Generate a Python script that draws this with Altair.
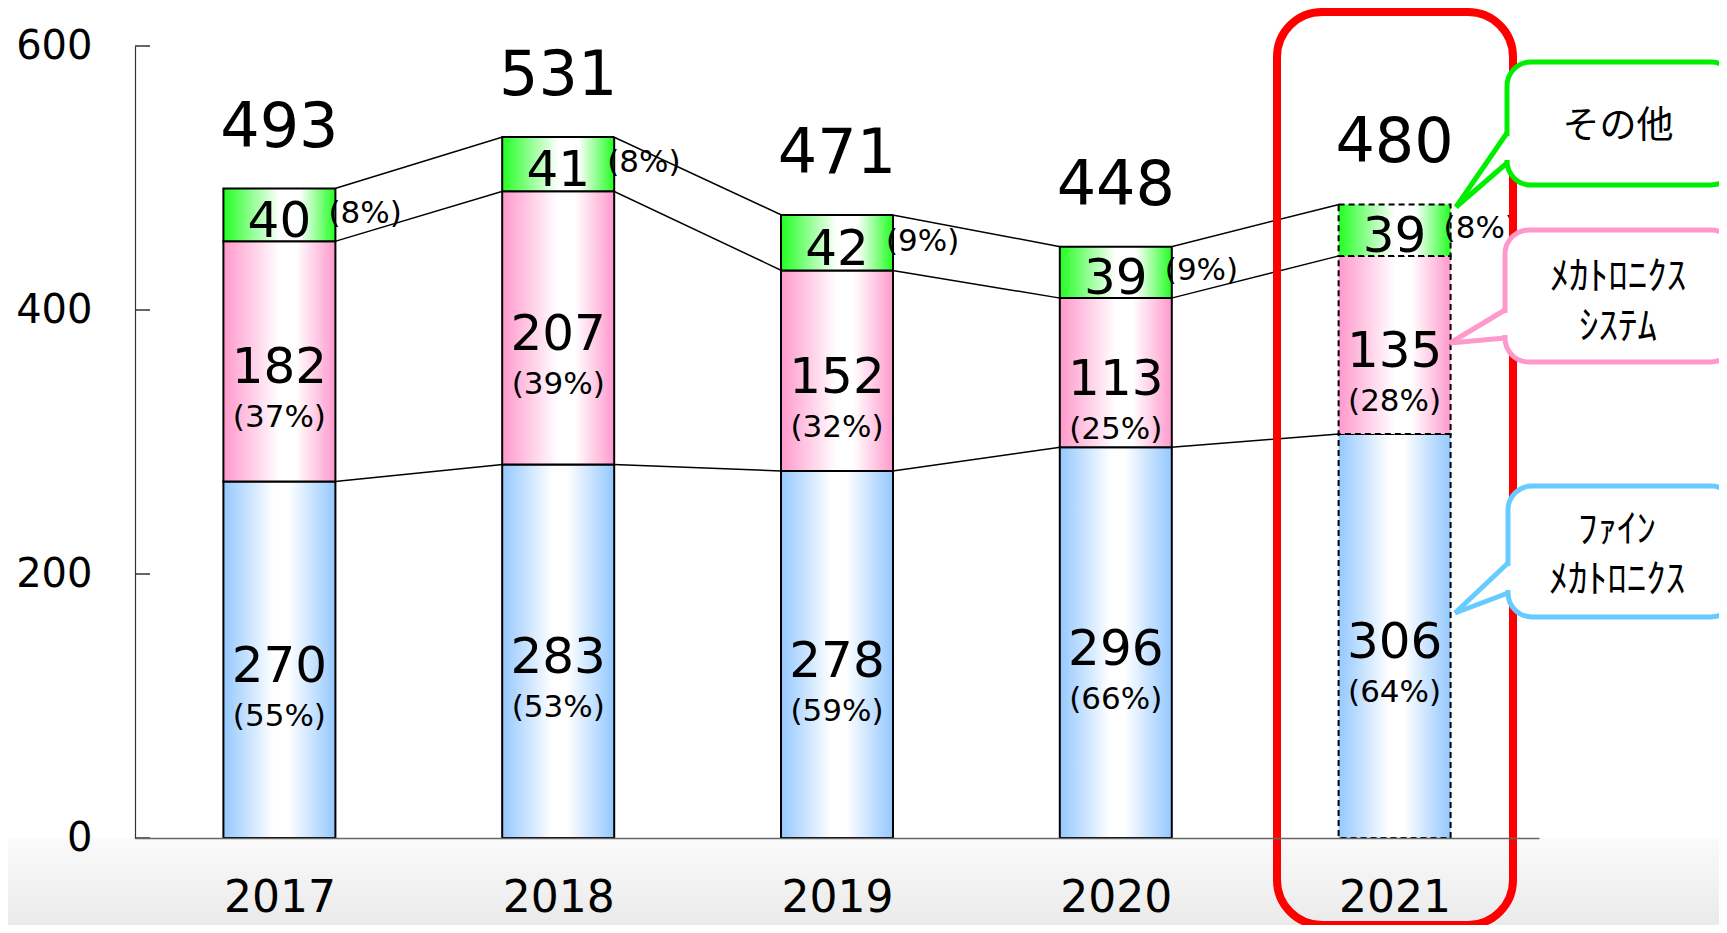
import altair as alt
import pandas as pd

# ---------------- data ----------------
years = [2017, 2018, 2019, 2020, 2021]
fine_mech = [270, 283, 278, 296, 306]      # ファインメカトロニクス
mech_sys = [182, 207, 152, 113, 135]       # メカトロニクスシステム
other = [40, 41, 42, 39, 39]               # その他
totals = [493, 531, 471, 448, 480]
fine_pct = [55, 53, 59, 66, 64]
mech_pct = [37, 39, 32, 25, 28]
other_pct = [8, 8, 9, 9, 8]
y_ticks = [0, 200, 400, 600]
callout_other = "その他"
callout_mech = ["ﾒｶﾄﾛﾆｸｽ", "ｼｽﾃﾑ"]
callout_fine = ["ﾌｧｲﾝ", "ﾒｶﾄﾛﾆｸｽ"]

# ---------------- layout ----------------
W, H = 1404, 792
BAR_PX = 112
STEP = W / len(years)
HW = BAR_PX / 2 / STEP
FONT = "DejaVu Sans"
JFONT = "Noto Sans CJK JP"

rows = []
series_vals = [(fine_mech, fine_pct), (mech_sys, mech_pct), (other, other_pct)]
for i, yr in enumerate(years):
    base = 0
    for s, (vals, pcts) in enumerate(series_vals):
        v = vals[i]
        rows.append(dict(year=yr, series=s, low=base, high=base + v,
                         mid=base + v / 2, value=v, pct=f"({pcts[i]}%)",
                         total=totals[i]))
        base += v
df = pd.DataFrame(rows)

# connecting lines between segment tops
lrows = []
for s in range(3):
    sub = df[df.series == s].reset_index(drop=True)
    for i, r in sub.iterrows():
        if i > 0:
            lrows.append(dict(series=s, xe=r.year - HW, top=r.high, o=2 * i))
        if i < len(sub) - 1:
            lrows.append(dict(series=s, xe=r.year + HW, top=r.high, o=2 * i + 1))
ldf = pd.DataFrame(lrows)

xscale = alt.Scale(domain=[2016.5, 2021.5], nice=False, zero=False)
yscale = alt.Scale(domain=[0, 600], nice=False, zero=True)
xaxis = alt.Axis(values=years, format="d", title=None, ticks=False, tickSize=0,
                 labelFontSize=44, labelFont=FONT, labelColor="black",
                 labelPadding=38, domainColor="#666666", domainWidth=1.5,
                 grid=False, labelFlush=False, zindex=1)
yaxis = alt.Axis(values=y_ticks, title=None, ticks=False, tickSize=0,
                 labelFontSize=40, labelFont=FONT, labelColor="black",
                 labelPadding=43, domainColor="#333333", domainWidth=1.2,
                 grid=False, labelFlush=False, zindex=1)


def X(f):
    return alt.X(f"{f}:Q", scale=xscale, axis=xaxis, title=None)


def Y(f):
    return alt.Y(f"{f}:Q", scale=yscale, axis=yaxis, title=None)


def grad(edge, w0, w1):
    return alt.Gradient(
        gradient="linear", x1=0, y1=0, x2=1, y2=0,
        stops=[alt.GradientStop(offset=0, color=edge),
               alt.GradientStop(offset=w0, color="#ffffff"),
               alt.GradientStop(offset=w1, color="#ffffff"),
               alt.GradientStop(offset=1, color=edge)])


one = pd.DataFrame({"a": [0]})

# background gradient at the bottom
bg = alt.Chart(one).mark_rect(
    fill=alt.Gradient(gradient="linear", x1=0, y1=0, x2=0, y2=1,
                      stops=[alt.GradientStop(offset=0, color="#fafafa"),
                             alt.GradientStop(offset=1, color="#e8e8e8")])
).encode(x=alt.value(-135), x2=alt.value(1600), y=alt.value(H), y2=alt.value(H + 100))

lines = alt.Chart(ldf).mark_line(color="black", strokeWidth=1.5).encode(
    x=X("xe"), y=Y("top"), detail="series:N", order="o:Q")

fills = [grad("#94C8FF", 0.45, 0.58), grad("#FF99CC", 0.5, 0.65), grad("#22FF22", 0.5, 0.68)]
bar_layers = []
for s in range(3):
    bar_layers.append(
        alt.Chart(df).transform_filter(f"datum.series == {s}").mark_bar(
            size=BAR_PX, fill=fills[s], stroke="black", strokeWidth=2, orient="vertical"
        ).encode(
            x=X("year"), y=Y("low"), y2="high",
            strokeDash=alt.condition("datum.year == 2021", alt.value([6, 4]), alt.value([1, 0])))
    )

num_labels = alt.Chart(df).mark_text(font=FONT, fontSize=50, baseline="middle",
                                     dy=7, color="black").encode(
    x=X("year"), y=Y("mid"), text="value:Q")
pct_labels = alt.Chart(df).transform_filter("datum.series < 2").mark_text(
    font=FONT, fontSize=31, baseline="middle", dy=57, color="black").encode(
    x=X("year"), y=Y("mid"), text="pct:N")
pct_other = alt.Chart(df).transform_filter("datum.series == 2").mark_text(
    font=FONT, fontSize=31, baseline="middle", align="left", dx=BAR_PX / 2 - 7,
    dy=-1, color="black").encode(x=X("year"), y=Y("mid"), text="pct:N")
tot_labels = alt.Chart(df).transform_filter("datum.series == 2").mark_text(
    font=FONT, fontSize=62, baseline="alphabetic", dy=-42, color="black").encode(
    x=X("year"), y=Y("high"), text="total:Q")

ytick_df = pd.DataFrame({"v": y_ticks})
yticks = alt.Chart(ytick_df).mark_rule(color="#333333", strokeWidth=1.5).encode(
    y=Y("v"), x=alt.value(0), x2=alt.value(15))

# highlight box around the forecast year
red = alt.Chart(one).mark_rect(fillOpacity=0, stroke="#FF0000", strokeWidth=8,
                               cornerRadius=45).encode(
    x=alt.value(1142), x2=alt.value(1378), y=alt.value(-34), y2=alt.value(879))

# callouts: box, colour, tail (base y1, base y2, tip x, tip y), text, first-line pos, size, lineHeight
callouts = [
    ((1372, 1600, 16, 139), "#00EE00", (87, 117, 1321, 161), callout_other, (1483, 81), 37, 40),
    ((1370, 1600, 184, 316), "#FF99CC", (264, 292, 1315, 297), callout_mech, (1483, 231), 39, 50),
    ((1373, 1600, 440, 571), "#66CCFF", (517, 547, 1320, 567), callout_fine, (1482, 484), 39, 50),
]
co_layers = []
for (bx, bx2, by, by2), col, (t1, t2, tx, ty), txt, (cx, cy), fs, lh in callouts:
    co_layers.append(alt.Chart(one).mark_rect(fill="white", stroke=col, strokeWidth=5,
                                              cornerRadius=24).encode(
        x=alt.value(bx), x2=alt.value(bx2), y=alt.value(by), y2=alt.value(by2)))
    co_layers.append(alt.Chart(one).mark_rule(color="white", strokeWidth=7).encode(
        x=alt.value(bx), x2=alt.value(bx), y=alt.value(t1 + 3), y2=alt.value(t2 - 3)))
    co_layers.append(alt.Chart(one).mark_rule(color=col, strokeWidth=5).encode(
        x=alt.value(bx), x2=alt.value(tx), y=alt.value(t1), y2=alt.value(ty)))
    co_layers.append(alt.Chart(one).mark_rule(color=col, strokeWidth=5).encode(
        x=alt.value(tx), x2=alt.value(bx), y=alt.value(ty), y2=alt.value(t2)))
    co_layers.append(alt.Chart(one).mark_text(font=JFONT, fontSize=fs, lineHeight=lh,
                                              baseline="middle", align="center",
                                              color="black").encode(
        x=alt.value(cx), y=alt.value(cy), text=alt.value(txt)))

chart = alt.layer(
    bg, lines, *bar_layers, num_labels, pct_labels, pct_other, tot_labels, yticks,
    red, *co_layers
).properties(
    width=W, height=H,
    padding={"left": 127, "top": 38, "right": 180, "bottom": 87},
    autosize=alt.AutoSizeParams(type="none"),
    background="white",
).configure_view(strokeWidth=0)

chart.save("out.html", embed_options={"renderer": "svg", "actions": False})
